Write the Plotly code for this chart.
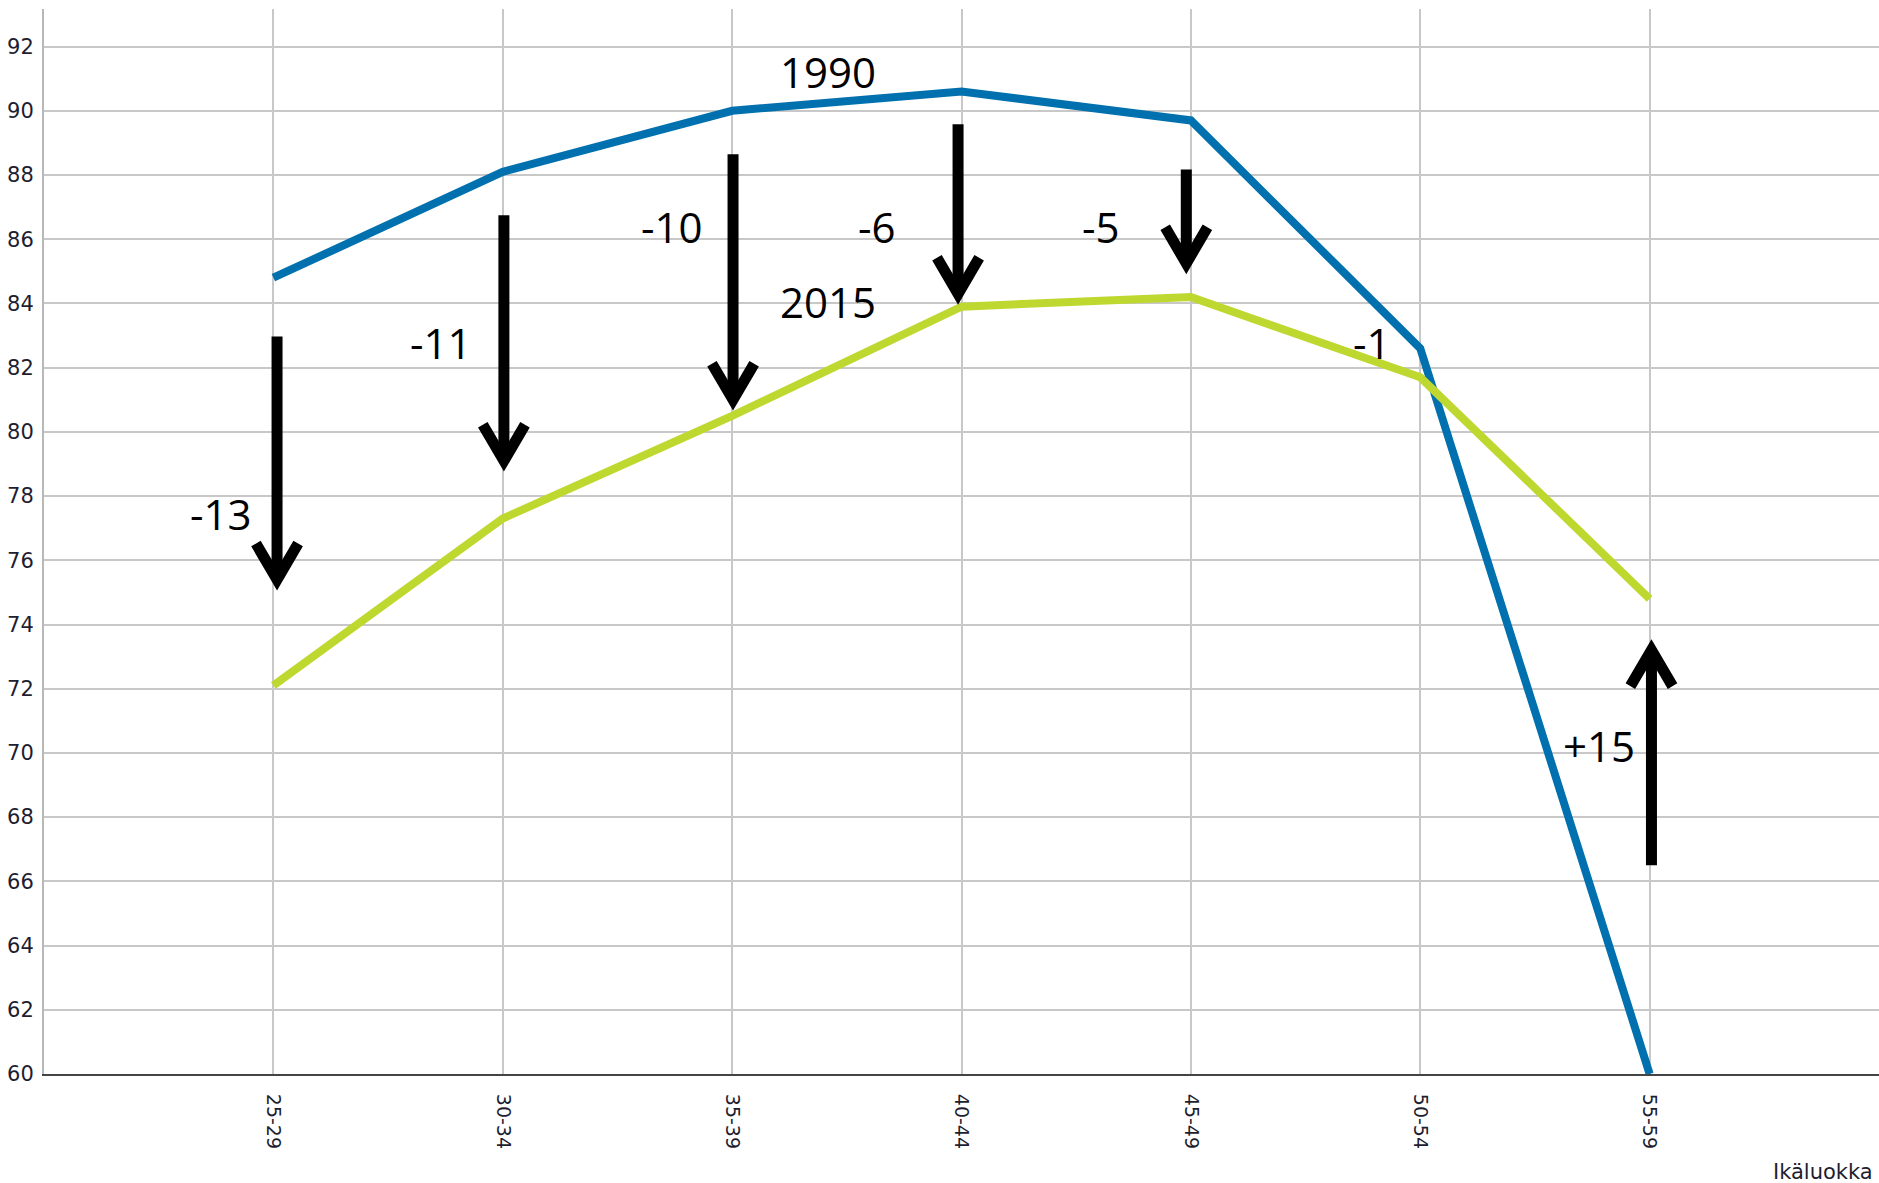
import plotly.graph_objects as go

# ---- data ----
age_groups = ["25-29", "30-34", "35-39", "40-44", "45-49", "50-54", "55-59"]
values_1990 = [84.8, 88.1, 90.0, 90.6, 89.7, 82.6, 60.0]
values_2015 = [72.1, 77.3, 80.5, 83.9, 84.2, 81.7, 74.8]
change_labels = ["-13", "-11", "-10", "-6", "-5", "-1", "+15"]
y_ticks = list(range(60, 93, 2))

# arrows: (category index, start value, tip value)
arrow_cat = [0, 1, 2, 3, 4, 6]
arrow_start = [82.97, 86.75, 88.65, 89.58, 88.17, 66.5]
arrow_tip = [75.4, 79.1, 81.0, 84.3, 85.25, 73.2]
arrow_dx = [0.016, 0.005, 0.004, -0.015, -0.02, 0.008]

# label positions (category units, value units)
label_x = [-0.23, 0.73, 1.74, 2.63, 3.61, 4.79, 5.78]
label_y = [77.45, 82.79, 86.41, 86.41, 86.41, 82.79, 70.24]

BLUE = "#0070ae"
GREEN = "#bfd830"
xs = list(range(len(age_groups)))

fig = go.Figure()
fig.add_trace(go.Scatter(x=xs, y=values_1990, mode="lines",
                         line=dict(color=BLUE, width=8), showlegend=False))
fig.add_trace(go.Scatter(x=xs, y=values_2015, mode="lines",
                         line=dict(color=GREEN, width=8), showlegend=False))

shapes = []
AW = 0.092   # chevron half-width in category units
AH = 1.12    # chevron height in value units
for c, s, t, d in zip(arrow_cat, arrow_start, arrow_tip, arrow_dx):
    x = c + d
    sign = 1 if s > t else -1
    shapes.append(dict(type="line", xref="x", yref="y", x0=x, x1=x, y0=s, y1=t,
                       line=dict(color="black", width=11)))
    shapes.append(dict(type="path", xref="x", yref="y",
                       path=f"M {x-AW},{t+sign*AH} L {x},{t} L {x+AW},{t+sign*AH}",
                       line=dict(color="black", width=11)))

LABEL_FONT = dict(family="Open Sans", size=42, color="black")
annotations = []
for lx, ly, txt in zip(label_x, label_y, change_labels):
    annotations.append(dict(x=lx, y=ly, xref="x", yref="y", text=txt, showarrow=False,
                            font=LABEL_FONT, xanchor="center", yanchor="middle"))
annotations.append(dict(x=2.418, y=91.23, xref="x", yref="y", text="1990", showarrow=False,
                        font=LABEL_FONT, xanchor="center", yanchor="middle"))
annotations.append(dict(x=2.418, y=84.06, xref="x", yref="y", text="2015", showarrow=False,
                        font=LABEL_FONT, xanchor="center", yanchor="middle"))
annotations.append(dict(x=1.0, y=0.0, xref="paper", yref="paper", text="Ikäluokka",
                        showarrow=False, xanchor="right", yanchor="top", yshift=-84,
                        xshift=-4,
                        font=dict(family="DejaVu Sans", size=21, color="#1e1e30")))

fig.update_layout(
    width=1879, height=1183,
    margin=dict(l=44, r=0, t=9, b=109),
    paper_bgcolor="white", plot_bgcolor="white",
    shapes=shapes, annotations=annotations,
    showlegend=False,
)
fig.update_xaxes(
    range=[-1, 7], tickmode="array", tickvals=xs, ticktext=age_groups,
    tickangle=90, showgrid=True, gridcolor="#c8c8c8", gridwidth=1.5,
    showline=True, linecolor="#444444", linewidth=2, zeroline=False,
    ticks="", ticklabelstandoff=14,
    tickfont=dict(family="DejaVu Sans", size=19, color="#1e1e30"),
)
fig.update_yaxes(
    range=[60, 93.17], tickmode="array", tickvals=y_ticks,
    showgrid=True, gridcolor="#c8c8c8", gridwidth=1.5,
    showline=True, linecolor="#b8b8b8", linewidth=2, zeroline=False,
    ticks="", ticklabelstandoff=4,
    tickfont=dict(family="DejaVu Sans", size=21, color="#1e1e30"),
)

fig.write_html(
    "out.html",
    config={"displayModeBar": False},
    post_script="document.body.style.margin='0';document.body.style.overflow='hidden';",
)
